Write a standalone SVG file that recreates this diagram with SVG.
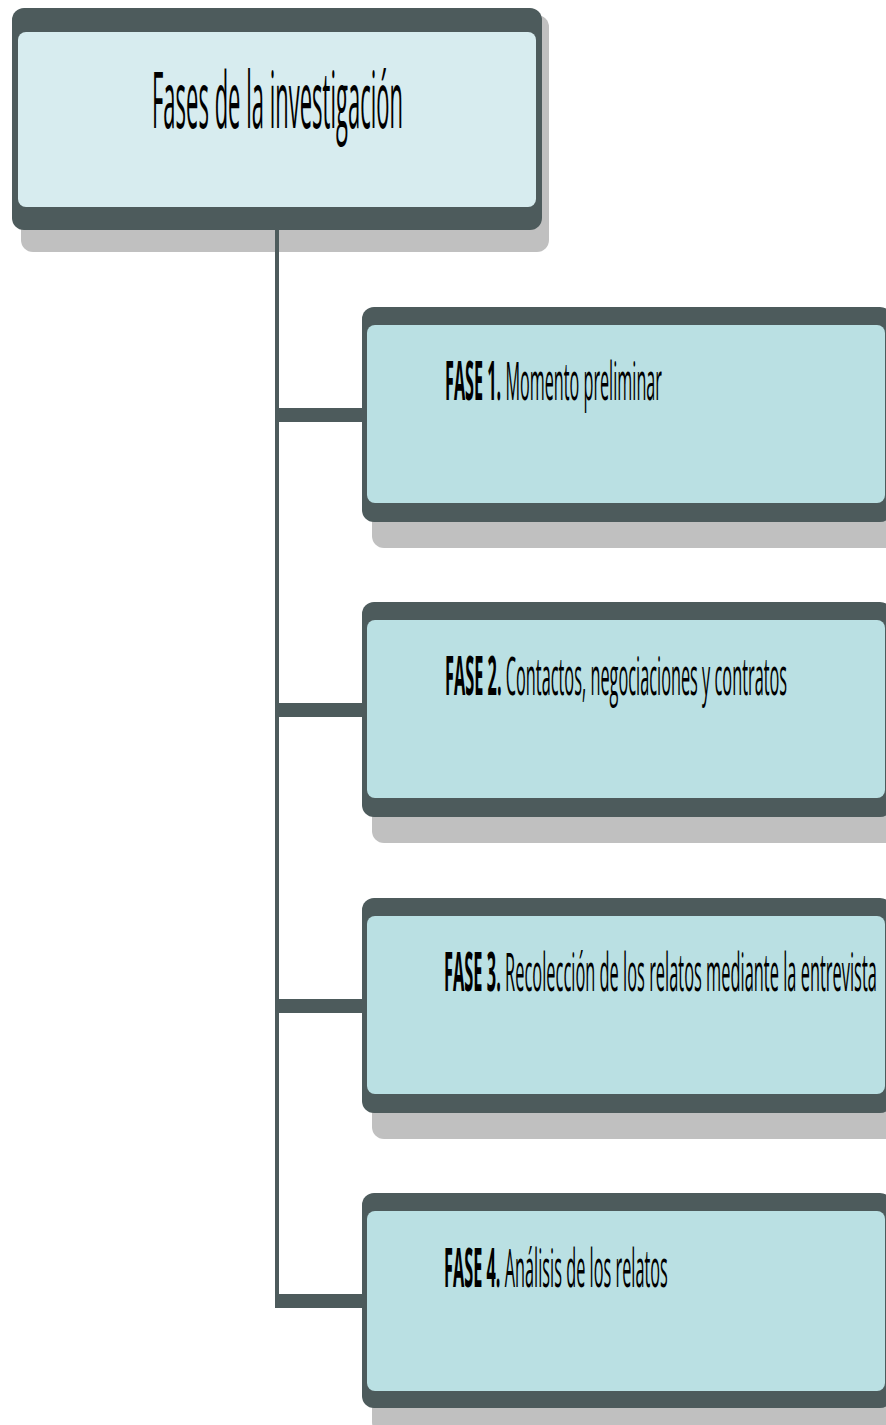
<svg xmlns="http://www.w3.org/2000/svg" width="886" height="1425" viewBox="0 0 886 1425">
<style>
.shadow{fill:#c0c0c0}
.frame{fill:#4d5b5c}
.tfill{fill:#d7ecef}
.pfill{fill:#bae0e3}
.title{font-family:"Open Sans","Liberation Sans",sans-serif;font-size:39px;fill:#000}
.ptext{font-family:"Open Sans","Liberation Sans",sans-serif;font-size:26.5px;fill:#000}
.b{font-weight:bold}
</style>
<rect width="886" height="1425" fill="#ffffff"/>
<g id="connectors">
  <rect class="frame" x="275" y="228" width="4" height="1080"/>
  <rect class="frame" x="275" y="408" width="92" height="14"/>
  <rect class="frame" x="275" y="703" width="92" height="14"/>
  <rect class="frame" x="275" y="999" width="92" height="14"/>
  <rect class="frame" x="275" y="1294" width="92" height="14"/>
</g>
<g id="title">
  <rect class="shadow" x="21" y="15" width="528" height="237" rx="12"/>
  <rect class="frame" x="12" y="8" width="530" height="222" rx="12"/>
  <rect class="tfill" x="18" y="32" width="518" height="175" rx="8"/>
  <rect class="frame" x="275" y="228" width="4" height="24"/>
  <text class="title" transform="translate(152,128) scale(0.5,2)" x="0" y="0" textLength="502" lengthAdjust="spacingAndGlyphs">Fases de la investigación</text>
</g>
<g id="fase1">
  <rect class="shadow" x="372" y="320" width="530" height="228" rx="12"/>
  <rect class="frame" x="362" y="307" width="530" height="215" rx="12"/>
  <rect class="pfill" x="367" y="325" width="518" height="178" rx="8"/>
  <text class="ptext" transform="translate(445,400) scale(0.55,2)" x="0" y="0" textLength="394.5" lengthAdjust="spacingAndGlyphs"><tspan class="b">FASE 1.</tspan> Momento preliminar</text>
</g>
<g id="fase2">
  <rect class="shadow" x="372" y="615" width="530" height="228" rx="12"/>
  <rect class="frame" x="362" y="602" width="530" height="215" rx="12"/>
  <rect class="pfill" x="367" y="620" width="518" height="178" rx="8"/>
  <text class="ptext" transform="translate(445,695) scale(0.55,2)" x="0" y="0" textLength="622" lengthAdjust="spacingAndGlyphs"><tspan class="b">FASE 2.</tspan> Contactos, negociaciones y contratos</text>
</g>
<g id="fase3">
  <rect class="shadow" x="372" y="911" width="530" height="228" rx="12"/>
  <rect class="frame" x="362" y="898" width="530" height="215" rx="12"/>
  <rect class="pfill" x="367" y="916" width="518" height="178" rx="8"/>
  <text class="ptext" transform="translate(444,991) scale(0.55,2)" x="0" y="0" textLength="787" lengthAdjust="spacingAndGlyphs"><tspan class="b">FASE 3.</tspan> Recolección de los relatos mediante la entrevista</text>
</g>
<g id="fase4">
  <rect class="shadow" x="372" y="1206" width="530" height="228" rx="12"/>
  <rect class="frame" x="362" y="1193" width="530" height="215" rx="12"/>
  <rect class="pfill" x="367" y="1211" width="518" height="180" rx="8"/>
  <text class="ptext" transform="translate(444,1287) scale(0.55,2)" x="0" y="0" textLength="407" lengthAdjust="spacingAndGlyphs"><tspan class="b">FASE 4.</tspan> Análisis de los relatos</text>
</g>
</svg>
